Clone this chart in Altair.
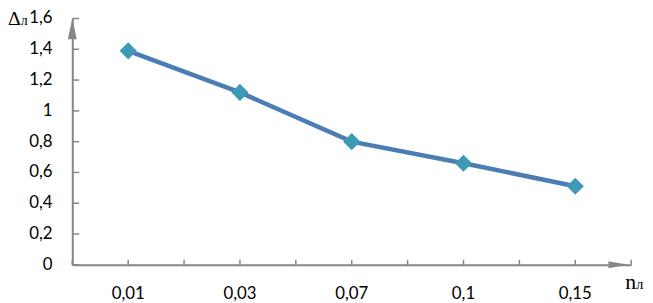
import altair as alt
import pandas as pd

# data
n_labels = ["0,01", "0,03", "0,07", "0,1", "0,15"]
delta_values = [1.39, 1.12, 0.80, 0.66, 0.51]

y_tick_values = [0, 0.2, 0.4, 0.6, 0.8, 1.0, 1.2, 1.4, 1.6]

W, H = 565, 249
TOP = 9
AXIS_GREY = "#868686"
LABEL_FONT = "Lato"
SERIF = "Liberation Serif"

df = pd.DataFrame({"n": n_labels, "d": delta_values})
yticks_df = pd.DataFrame({"d": y_tick_values})
cats_df = pd.DataFrame({"n": n_labels})
last_df = pd.DataFrame({"n": [n_labels[-1]], "d": [0]})
top_df = pd.DataFrame({"d": [y_tick_values[-1]]})

x_scale = alt.Scale(type="band", paddingInner=0, paddingOuter=0, domain=n_labels)
y_scale = alt.Scale(domain=[0, 1.6], nice=False, zero=True)

x_band = alt.X(
    "n:O",
    sort=n_labels,
    scale=x_scale,
    axis=alt.Axis(
        title=None, labelAngle=0, ticks=False, tickSize=0, grid=False,
        domainColor=AXIS_GREY, domainWidth=2, labelOverlap=False,
        labelFont=LABEL_FONT, labelFontSize=17, labelColor="#000",
        labelBaseline="alphabetic", labelPadding=34,
    ),
)
y_lin = alt.Y(
    "d:Q",
    scale=y_scale,
    axis=alt.Axis(
        title=None, ticks=False, tickSize=0, grid=False, labels=False,
        domainColor=AXIS_GREY, domainWidth=2,
    ),
)

base = alt.Chart(df)
line = base.mark_line(color="#4A7DB6", strokeWidth=4.5).encode(x=x_band, y=y_lin)
pts = base.mark_point(
    shape="diamond", filled=True, size=300, color="#3D9AB6", opacity=1
).encode(x=x_band, y=y_lin)

# y tick labels (comma decimal) and inward y ticks
ylabels = alt.Chart(yticks_df).transform_calculate(
    lab="replace(format(datum.d, '~g'), '.', ',')"
).mark_text(
    font=LABEL_FONT, fontSize=17, color="#000", align="right", baseline="middle"
).encode(y=alt.Y("d:Q"), x=alt.value(-20), text="lab:N")
ytick = alt.Chart(yticks_df).mark_rule(color=AXIS_GREY, strokeWidth=1.5).encode(
    y=alt.Y("d:Q"),
    x=alt.value(0), x2=alt.value(7),
)
# inward x ticks: band edges and band centres
xtick_edge = alt.Chart(cats_df).mark_rule(color=AXIS_GREY, strokeWidth=1.5).encode(
    x=alt.X("n:O", bandPosition=0),
    y=alt.value(H), y2=alt.value(H - 5),
)
xtick_mid = alt.Chart(cats_df).mark_rule(color=AXIS_GREY, strokeWidth=1.5).encode(
    x=alt.X("n:O", bandPosition=0.5),
    y=alt.value(H), y2=alt.value(H - 5),
)
xtick_end = alt.Chart(last_df).mark_rule(color=AXIS_GREY, strokeWidth=1.5).encode(
    x=alt.X("n:O", bandPosition=1),
    y=alt.value(H), y2=alt.value(H - 5),
)

# arrow heads
yarrow = alt.Chart(top_df).mark_point(
    shape="M0,0 L0.45,2.1 L-0.45,2.1 Z", size=400, filled=True,
    color=AXIS_GREY, opacity=1,
).encode(
    y=alt.Y("d:Q"),
    x=alt.value(0),
)
xarrow = alt.Chart(last_df).mark_point(
    shape="M-0.3,0 L-2.3,0.35 L-2.3,-0.35 Z", size=400, filled=True,
    color=AXIS_GREY, opacity=1,
).encode(
    x=alt.X("n:O", bandPosition=1),
    y=alt.Y("d:Q"),
)

one = pd.DataFrame({"k": [0]})
def label(txt, x, y, size):
    return alt.Chart(one).mark_text(
        text=txt, font=SERIF, fontSize=size, align="left",
        baseline="alphabetic", color="#000",
    ).encode(x=alt.value(x), y=alt.value(y))

t_delta = label("Δ", -65, 24 - 8 - TOP, 20)
t_delta_l = label("л", -52, 24 - 8 - TOP, 14)
t_n = label("n", 559, 290 - 8 - TOP, 22)
t_n_l = label("л", 570, 290 - 8 - TOP, 15)

chart = alt.layer(
    line, pts, ylabels, ytick, xtick_edge, xtick_mid, xtick_end, yarrow, xarrow,
    t_delta, t_delta_l, t_n, t_n_l
).properties(
    width=W, height=H,
    autosize=alt.AutoSizeParams(type="none"),
    padding={"left": 65, "top": TOP, "right": 14, "bottom": 37},
).configure_view(stroke=None)

chart.save("out.html", embed_options={"renderer": "svg", "actions": False})
